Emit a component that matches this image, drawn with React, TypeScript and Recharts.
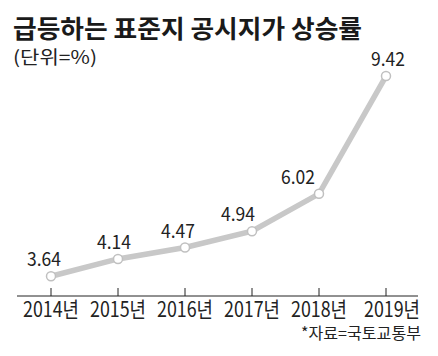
import { Line, LineChart, XAxis, YAxis } from "recharts";

const years = ["2014년", "2015년", "2016년", "2017년", "2018년", "2019년"];
const rates = [3.64, 4.14, 4.47, 4.94, 6.02, 9.42];

const title = "급등하는 표준지 공시지가 상승률";
const unit = "(단위=%)";
const source = "*자료=국토교통부";

const data = years.map((year, i) => ({ year, rate: rates[i] }));

// small nudges so value labels sit where the print layout put them
const labelShift = [-7, -4, -7, -14, -21, 2];

const FONT = "'Noto Sans CJK KR', 'Noto Sans', sans-serif";

function YearTick(props: any) {
  const { x, y, payload, index } = props;
  const shift = index === years.length - 1 ? 6 : 0;
  return (
    <g>
      <line x1={x} x2={x} y1={y - 8} y2={y} stroke="#222" strokeWidth={1} />
      <text
        x={x + shift}
        y={y + 21}
        textAnchor="middle"
        fontSize={21}
        fontFamily={FONT}
        fill="#222"
        textLength={56}
        lengthAdjust="spacingAndGlyphs"
      >
        {payload.value}
      </text>
    </g>
  );
}

function renderLabel(props: any) {
  const { x, y, value, index } = props;
  return (
    <text
      key={`lbl-${index}`}
      x={x + (labelShift[index] ?? 0)}
      y={y - 10}
      textAnchor="middle"
      fontSize={19}
      fontFamily={FONT}
      fill="#222"
      textLength={34}
      lengthAdjust="spacingAndGlyphs"
    >
      {Number(value).toFixed(2)}
    </text>
  );
}

export default function App() {
  return (
    <div style={{ position: "absolute", left: 0, top: 0, width: 438, height: 356, background: "#fff" }}>
      <LineChart
        width={438}
        height={356}
        data={data}
        margin={{ top: 56, right: 20, bottom: 30, left: 17 }}
      >
        <XAxis
          dataKey="year"
          height={30}
          padding={{ left: 34, right: 32 }}
          axisLine={{ stroke: "#222", strokeWidth: 1 }}
          tickLine={false}
          tickSize={0}
          tickMargin={0}
          tick={<YearTick />}
          interval={0}
        />
        <YAxis hide domain={[3.07, 10]} />
        <Line
          type="linear"
          dataKey="rate"
          stroke="#c8c8c8"
          strokeWidth={5.5}
          dot={{ r: 4.5, fill: "#fff", stroke: "#c0c0c0", strokeWidth: 1.5 }}
          activeDot={false}
          label={renderLabel}
          isAnimationActive={false}
        />
      </LineChart>
      <svg
        width={438}
        height={356}
        style={{ position: "absolute", left: 0, top: 0, pointerEvents: "none" }}
      >
        <text
          x={13}
          y={38}
          fontSize={25}
          fontWeight={700}
          fontFamily={FONT}
          fill="#1a1a1a"
          textLength={349}
          lengthAdjust="spacingAndGlyphs"
        >
          {title}
        </text>
        <text
          x={13}
          y={64}
          fontSize={18}
          fontFamily={FONT}
          fill="#222"
          textLength={84}
          lengthAdjust="spacingAndGlyphs"
        >
          {unit}
        </text>
        <text
          x={421}
          y={339}
          textAnchor="end"
          fontSize={16}
          fontFamily={FONT}
          fill="#222"
          textLength={120}
          lengthAdjust="spacingAndGlyphs"
        >
          {source}
        </text>
      </svg>
    </div>
  );
}
